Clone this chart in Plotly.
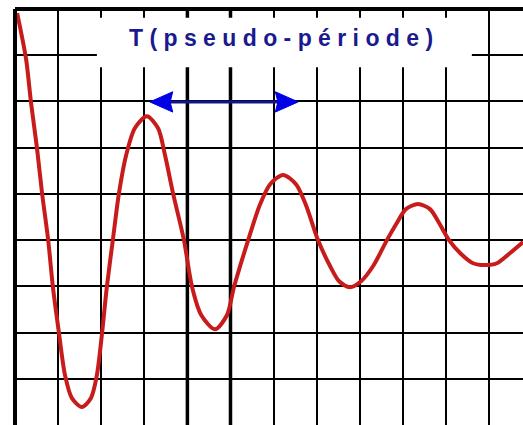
import plotly.graph_objects as go

# Damped oscillation, in grid divisions
# (x: divisions from the left border, y: divisions from the centre line)
t_div = [0.05, 0.14, 0.26, 0.37, 0.51, 0.63, 0.77, 0.88, 1.02, 1.16, 1.32, 1.55,
         1.76, 1.90, 2.02, 2.13, 2.27, 2.41, 2.58, 2.78, 3.06, 3.32, 3.48, 3.67,
         3.92, 4.11, 4.32, 4.64, 4.92, 5.08, 5.41, 5.68, 5.92, 6.22, 6.52, 6.75,
         7.03, 7.31, 7.52, 7.77, 8.03, 8.31, 8.63, 8.86, 9.07, 9.35, 9.63, 9.84,
         10.07, 10.35, 10.63, 10.90, 11.18, 11.46, 11.79]
u_div = [4.91, 4.50, 3.90, 2.99, 1.99, 1.00, 0.00, -1.02, -2.01, -2.92, -3.42, -3.61,
         -3.42, -2.92, -2.01, -1.02, 0.00, 1.00, 1.84, 2.42, 2.68, 2.42, 1.84, 1.00,
         0.00, -1.02, -1.62, -1.93, -1.62, -1.02, 0.00, 0.76, 1.21, 1.41, 1.21, 0.76,
         0.00, -0.56, -0.89, -1.02, -0.89, -0.56, 0.00, 0.37, 0.67, 0.78, 0.67, 0.37,
         0.00, -0.30, -0.50, -0.54, -0.50, -0.30, -0.04]

title_text = "T ( p s e u d o - p é r i o d e )"

x_max = 11.787
y_min, y_max = -4, 5

fig = go.Figure()
fig.add_trace(go.Scatter(
    x=t_div, y=u_div, mode="lines",
    line=dict(color="#c81c1c", width=4, shape="spline", smoothing=0.8),
    hoverinfo="skip", showlegend=False,
))

navy = "#14148a"
blue = "#0000e6"
arrow_y = 2.99

shapes = [
    # thicker grid lines
    dict(type="line", xref="x", yref="paper", x0=4, x1=4, y0=0, y1=1,
         line=dict(color="black", width=3.5), layer="below"),
    dict(type="line", xref="x", yref="paper", x0=5, x1=5, y0=0, y1=1,
         line=dict(color="black", width=3.5), layer="below"),
    # borders (left and top)
    dict(type="line", xref="paper", yref="paper", x0=0, x1=0, y0=0, y1=1,
         line=dict(color="black", width=4)),
    dict(type="line", xref="paper", yref="paper", x0=0, x1=1, y0=1, y1=1,
         line=dict(color="black", width=4)),
    # white box behind the title
    dict(type="rect", xref="x", yref="y", x0=1.90, x1=10.60, y0=3.74, y1=4.81,
         fillcolor="white", line=dict(width=0), layer="above"),
    # double arrow
    dict(type="line", xref="x", yref="y", x0=3.40, x1=6.30, y0=arrow_y, y1=arrow_y,
         line=dict(color=navy, width=3), layer="above"),
    dict(type="path", xref="x", yref="y",
         path=f"M 3.13,{arrow_y} L 3.66,{arrow_y + 0.22} L 3.60,{arrow_y} L 3.66,{arrow_y - 0.22} Z",
         fillcolor=blue, line=dict(color=blue, width=1), layer="above"),
    dict(type="path", xref="x", yref="y",
         path=f"M 6.57,{arrow_y} L 6.04,{arrow_y + 0.22} L 6.10,{arrow_y} L 6.04,{arrow_y - 0.22} Z",
         fillcolor=blue, line=dict(color=blue, width=1), layer="above"),
]

fig.update_layout(
    width=523, height=425,
    margin=dict(l=15, r=0, t=9, b=0),
    paper_bgcolor="white", plot_bgcolor="white",
    shapes=shapes,
    annotations=[dict(
        x=6.17, y=4.37, xref="x", yref="y", text=title_text, showarrow=False,
        xanchor="center", yanchor="middle",
        font=dict(family="Liberation Sans, Arial, sans-serif", size=23,
                  color="#1a1a8e", weight="bold"),
    )],
    xaxis=dict(range=[0, x_max], dtick=1, tick0=0, showgrid=True, gridcolor="black",
               gridwidth=2, zeroline=False, showticklabels=False, ticks="",
               showline=False, fixedrange=True),
    yaxis=dict(range=[y_min, y_max], dtick=1, tick0=0, showgrid=True, gridcolor="black",
               gridwidth=2, zeroline=False, showticklabels=False, ticks="",
               showline=False, fixedrange=True),
)

fig.write_html("out.html", config={"displayModeBar": False},
               post_script="document.body.style.margin='0px';document.body.style.overflow='hidden';")
